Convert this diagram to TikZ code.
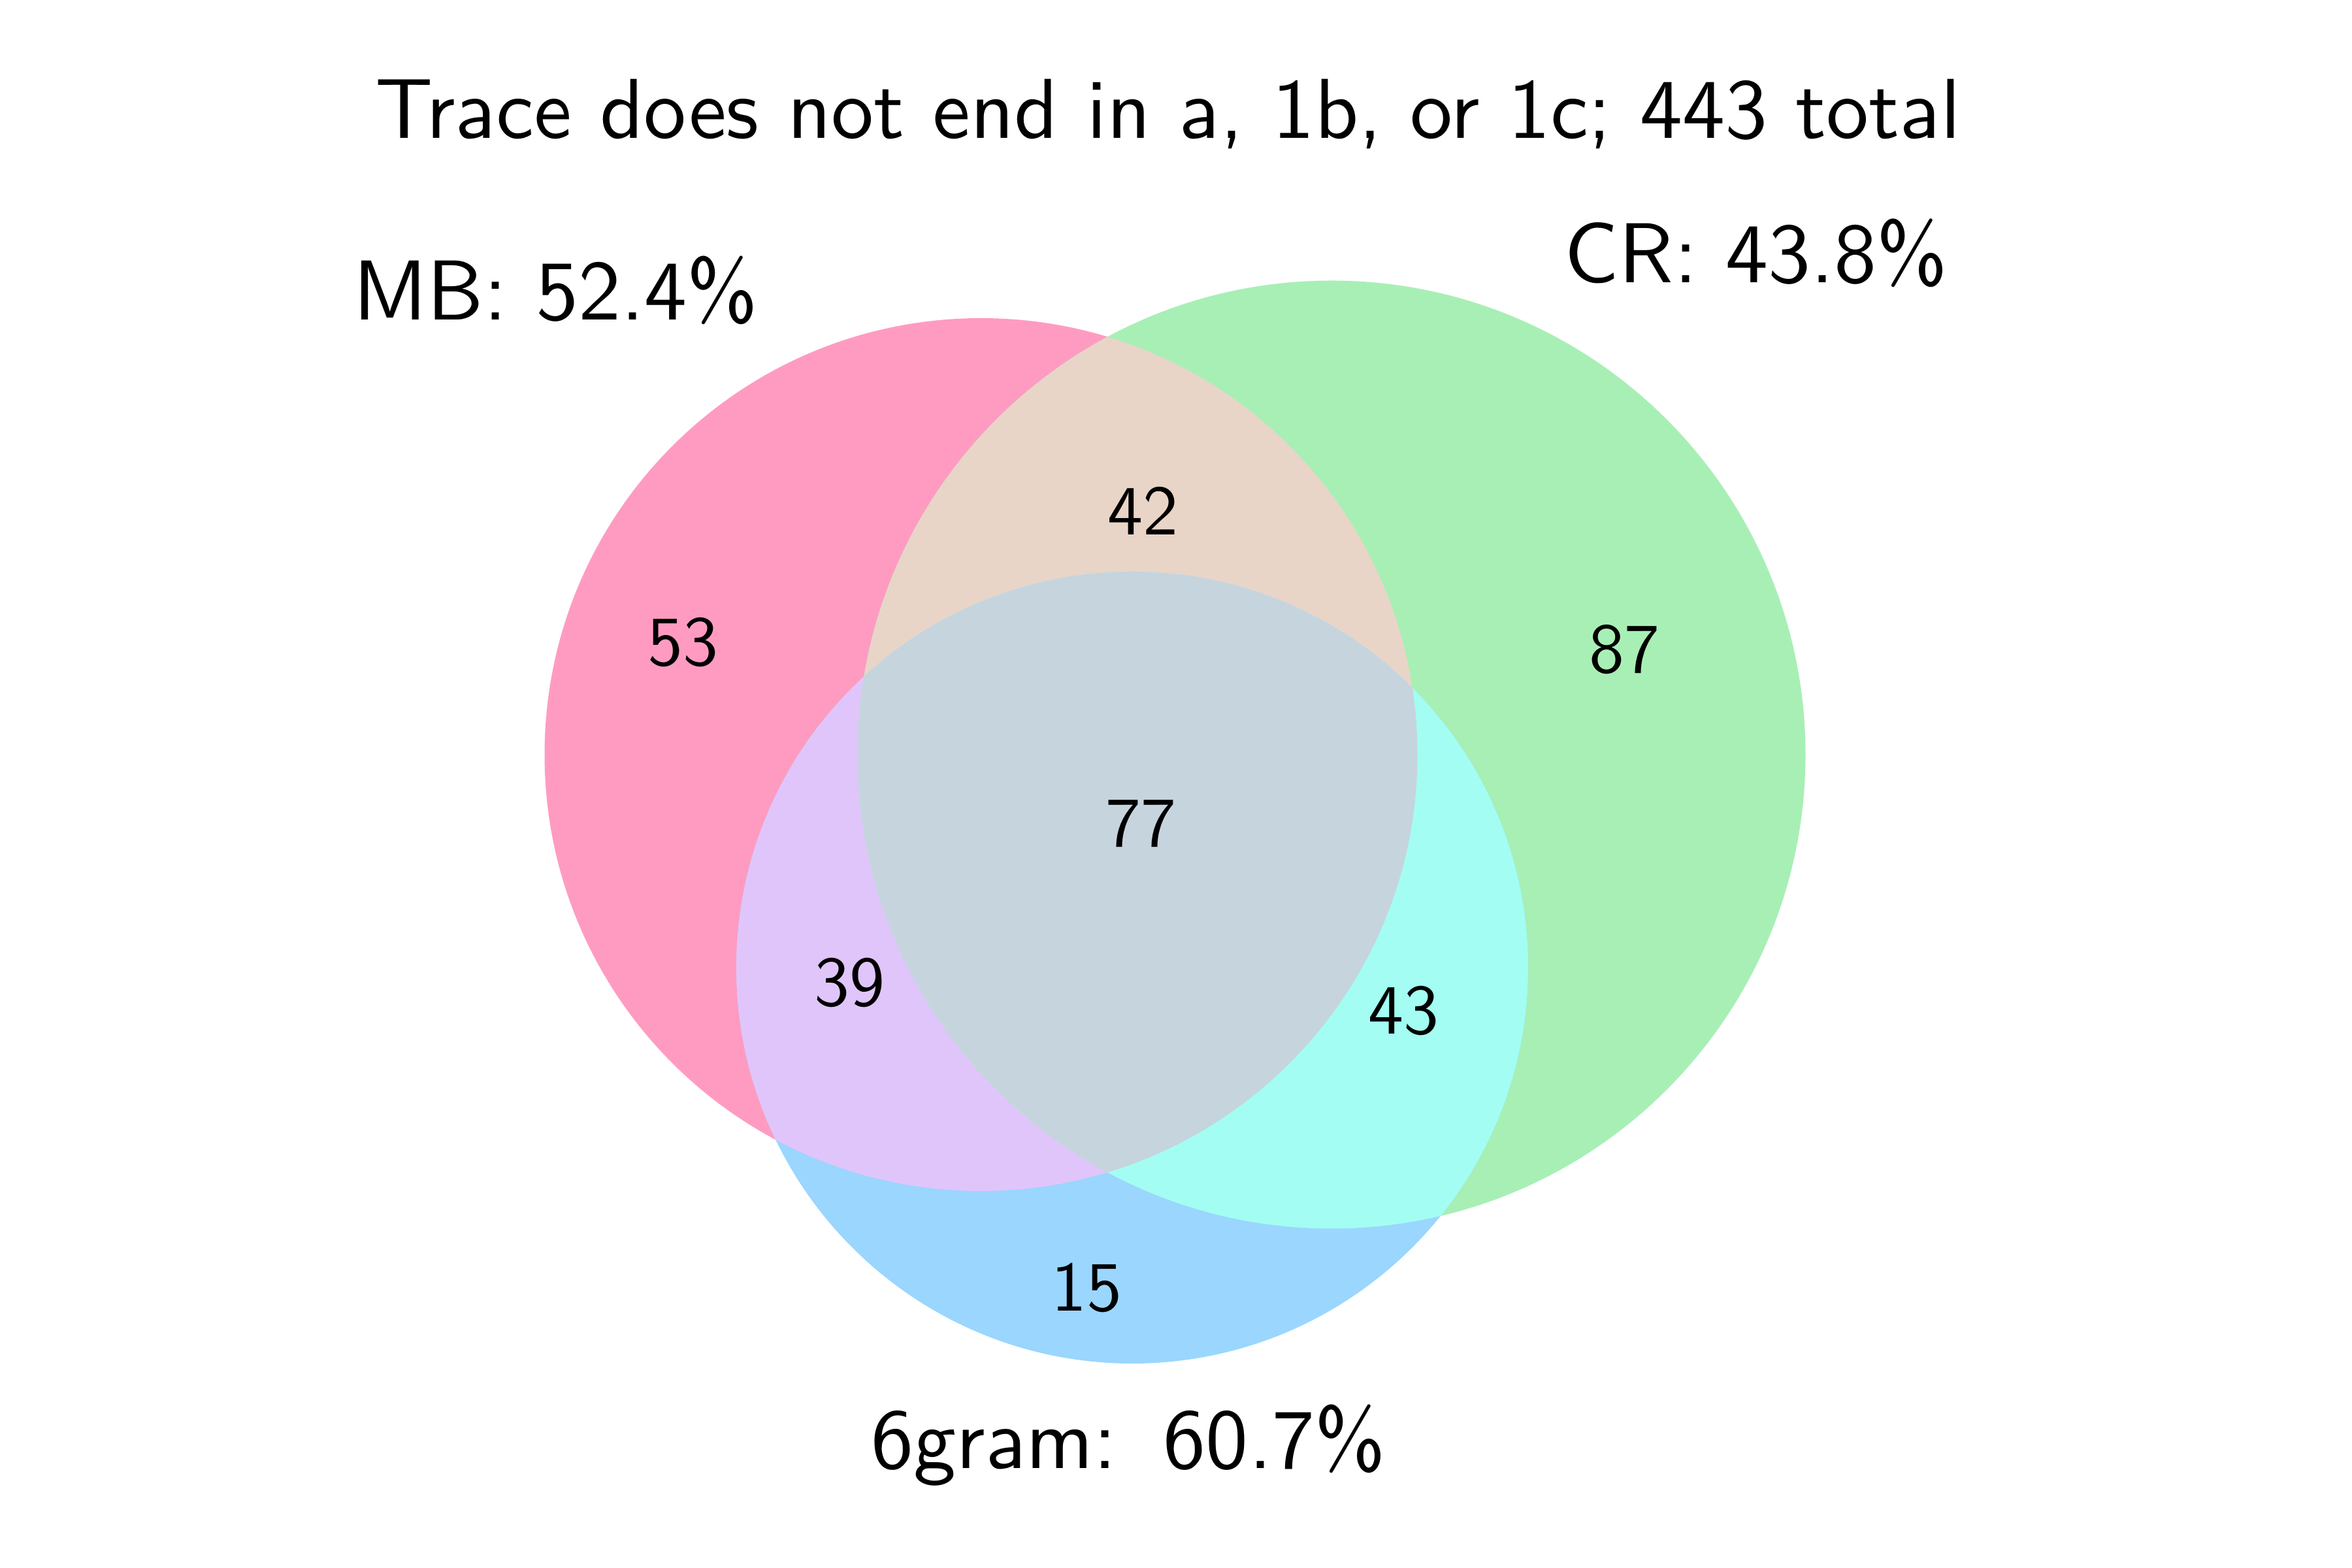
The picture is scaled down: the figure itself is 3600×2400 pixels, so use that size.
\documentclass[tikz,border=0pt]{standalone}
\usepackage{fontspec}
\usepackage{graphicx}
\definecolor{cMB}{HTML}{FF9BC1}
\definecolor{cCR}{HTML}{A8EFB5}
\definecolor{cSG}{HTML}{9AD6FE}
\definecolor{cMBCR}{HTML}{E8D5C8}
\definecolor{cMBSG}{HTML}{E0C5FA}
\definecolor{cCRSG}{HTML}{A3FDF2}
\definecolor{cALL}{HTML}{C6D4DE}
\begin{document}
\begin{tikzpicture}[x=0.01cm,y=0.01cm,
  lbl/.style={inner sep=0pt, anchor=base, font=\sffamily},
  num/.style={inner sep=0pt, font=\sffamily}]
\useasboundingbox (0,0) rectangle (3600,2400);
\coordinate (mb) at (1501.5,1245);
\coordinate (cr) at (2038,1245);
\coordinate (sg) at (1733,919);
\def\rMB{668}\def\rCR{725.5}\def\rSG{606}
% single sets
\fill[cMB] (mb) circle [radius=\rMB];
\fill[cCR] (cr) circle [radius=\rCR];
\fill[cSG] (sg) circle [radius=\rSG];
% pairwise
\begin{scope}
  \clip (mb) circle [radius=\rMB];
  \fill[cMBCR] (cr) circle [radius=\rCR];
  \fill[cMBSG] (sg) circle [radius=\rSG];
\end{scope}
\begin{scope}
  \clip (cr) circle [radius=\rCR];
  \fill[cCRSG] (sg) circle [radius=\rSG];
\end{scope}
\begin{scope}
  \clip (mb) circle [radius=\rMB];
  \clip (cr) circle [radius=\rCR];
  \fill[cALL] (sg) circle [radius=\rSG];
\end{scope}
% labels
\node[lbl] (title) at (1788,2188) {\scalebox{3.7}{Trace does not end in a, 1b, or 1c; 443 total}};
\node[lbl] (lmb) at (850,1910) {\scalebox{3.7}{MB: 52.4\%}};
\node[lbl] (lcr) at (2688,1967) {\scalebox{3.7}{CR: 43.8\%}};
\node[lbl] (lsg) at (1727,152) {\scalebox{3.7}{6gram: \kern1pt60.7\%}};
% counts
\node[num] (n42) at (1749,1618) {\scalebox{3.07}{42}};
\node[num] (n53) at (1045,1417) {\scalebox{3.07}{53}};
\node[num] (n87) at (2486,1406) {\scalebox{3.07}{87}};
\node[num] (n77) at (1746,1139) {\scalebox{3.07}{77}};
\node[num] (n39) at (1300,896) {\scalebox{3.07}{39}};
\node[num] (n43) at (2148,853) {\scalebox{3.07}{43}};
\node[num] (n15) at (1663,429) {\scalebox{3.07}{15}};
\end{tikzpicture}
\end{document}
